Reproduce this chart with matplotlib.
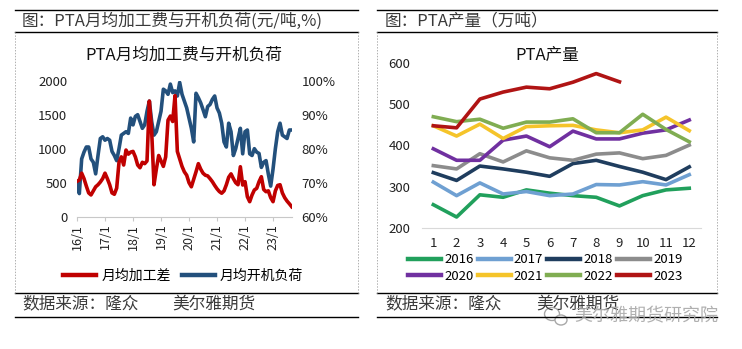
import matplotlib.pyplot as plt
from matplotlib.lines import Line2D
from matplotlib.patches import Ellipse

plt.rcParams["font.family"] = ["Noto Sans CJK SC", "DejaVu Sans"]
plt.rcParams["axes.unicode_minus"] = False

W, H = 742, 349

# 月均加工费 (元/吨), 2016/1 - 2023/9
fee = [
    520, 540, 640, 560, 450, 350, 320, 380, 440, 470, 510, 560,
    640, 560, 470, 350, 330, 420, 800, 880, 760, 980, 920, 950,
    960, 880, 760, 720, 800, 780, 820, 1700, 1250, 470, 700, 900,
    820, 740, 880, 1420, 1480, 1400, 1780, 960, 850, 740, 660, 610,
    500, 440, 550, 660, 780, 700, 640, 610, 600, 560, 515, 460,
    410, 370, 345, 380, 470, 580, 630, 560, 500, 470, 735, 466,
    515, 294, 221, 319, 393, 417, 515, 588, 400, 368, 380, 280,
    221, 380, 460, 470, 350, 280, 230, 190, 147,
]
# 月均开机负荷 (%)
load = [
    70.3, 66.8, 77, 79, 80.5, 80.5, 77, 76, 72.6, 78, 83, 83.5,
    82.5, 83, 82.5, 79.2, 78, 76.5, 80, 84, 84.5, 85, 84.5, 89,
    87, 89.5, 90, 88, 86, 87, 91, 94, 88, 84, 85, 88,
    91, 97.5, 97, 96, 99, 96.5, 97, 95.5, 99.5, 96, 94, 92,
    89, 86, 82, 96.3, 95, 93.5, 91.5, 89.4, 92.4, 93, 94.5, 95.5,
    92, 90.5, 87.5, 82, 80.5, 87.5, 85, 78, 80, 83, 86, 78.5,
    85, 85.5, 78.5, 78, 80, 79, 78.6, 74.5, 76, 76.5, 72.5, 69,
    74, 80, 85, 87.5, 84, 83.5, 83, 85.5, 85.5,
]
year_ticks = ["16/1", "17/1", "18/1", "19/1", "20/1", "21/1", "22/1", "23/1"]

# PTA 产量 (万吨), 按月
years = ["2016", "2017", "2018", "2019", "2020", "2021", "2022", "2023"]
output_2016 = [256, 226, 280, 274, 292, 284, 278, 274, 253, 278, 292, 296]
output_2017 = [311, 278, 309, 282, 288, 278, 282, 305, 304, 312, 304, 329]
output_2018 = [334, 315, 350, 343, 335, 325, 356, 364, 349, 335, 317, 348]
output_2019 = [351, 343, 380, 360, 387, 370, 364, 379, 382, 368, 376, 401]
output_2020 = [392, 364, 364, 413, 423, 397, 435, 416, 416, 430, 438, 462]
output_2021 = [448, 423, 452, 417, 446, 448, 449, 438, 431, 438, 469, 436]
output_2022 = [470, 458, 464, 442, 457, 457, 465, 431, 431, 476, 439, 409]
output_2023 = [448, 443, 513, 530, 542, 538, 554, 575, 555]

RED = "#c00000"
BLUE = "#23507c"
year_colors = ["#21a05c", "#6fa0d2", "#1f3d5e", "#8c8c8c",
               "#7030a0", "#f5c42a", "#80ad52", "#b01414"]
TXT = "#3a3a3a"
GRID = "#c8c8c8"


def box(x0, y0, x1, y1):
    return [x0 / W, 1 - y1 / H, (x1 - x0) / W, (y1 - y0) / H]


def fx(x):
    return x / W


def fy(y):
    return 1 - y / H


fig = plt.figure(figsize=(W / 100, H / 100), dpi=100)
fig.patch.set_facecolor("white")

# frames: solid rules for header/footer, dotted sides
for x0, x1 in [(15, 358), (377, 717)]:
    for y in [10, 32, 293, 317]:
        fig.add_artist(Line2D([fx(x0), fx(x1)], [fy(y), fy(y)],
                              color="black", lw=1.0))
    for x in [x0, x1]:
        fig.add_artist(Line2D([fx(x), fx(x)], [fy(32), fy(293)],
                              color="#b0b0b0", lw=0.7, ls=(0, (1.5, 1.5))))

fig.text(fx(22), fy(21), "图：PTA月均加工费与开机负荷(元/吨,%)",
         fontsize=12, color=TXT, va="center", ha="left")
fig.text(fx(385), fy(21), "图：PTA产量（万吨）",
         fontsize=12, color=TXT, va="center", ha="left")
for x0 in [22, 385]:
    fig.text(fx(x0), fy(304), "数据来源：隆众", fontsize=12, color=TXT,
             va="center", ha="left")
fig.text(fx(172), fy(304), "美尔雅期货", fontsize=12, color=TXT,
         va="center", ha="left")
fig.text(fx(536), fy(304), "美尔雅期货", fontsize=12, color=TXT,
         va="center", ha="left")

# ---- left: processing fee vs. operating rate
ax1 = fig.add_axes(box(77, 80.7, 291.7, 216.7))
ax2 = ax1.twinx()
idx = range(len(fee))
ax1.plot(idx, fee, color=RED, lw=2.6, solid_joinstyle="round")
ax2.plot(range(len(load)), load, color=BLUE, lw=2.6, solid_joinstyle="round")
ax1.set_zorder(ax2.get_zorder() + 1)
ax1.patch.set_visible(False)

ax1.set_xlim(0, len(fee) - 1)
ax1.set_ylim(0, 2000)
ax2.set_ylim(60, 100)
ax1.set_yticks(range(0, 2001, 500))
ax2.set_yticks(range(60, 101, 10))
ax2.set_yticklabels([f"{v}%" for v in range(60, 101, 10)])
ax1.set_xticks(range(0, len(fee), 12))
ax1.set_xticklabels(year_ticks, rotation=90)
ax1.tick_params(axis="y", length=0, pad=7, labelsize=9.5, labelcolor="#222222")
ax2.tick_params(axis="y", length=0, pad=7, labelsize=9.5, labelcolor="#222222")
ax1.tick_params(axis="x", length=3, width=0.8, color=GRID, pad=2,
                labelsize=9, labelcolor="#222222")
for ax in (ax1, ax2):
    for s in ["top", "left", "right"]:
        ax.spines[s].set_visible(False)
ax2.spines["bottom"].set_visible(False)
ax1.spines["bottom"].set_color(GRID)
ax1.spines["bottom"].set_linewidth(0.8)

fig.text(fx(184), fy(55), "PTA月均加工费与开机负荷", fontsize=12,
         color="#111111", ha="center", va="center")

h_fee = Line2D([], [], color=RED, lw=3.2)
h_load = Line2D([], [], color=BLUE, lw=3.2)
fig.legend([h_fee, h_load], ["月均加工差", "月均开机负荷"], ncol=2,
           loc="center left", bbox_to_anchor=(fx(63), fy(276)),
           frameon=False, fontsize=10, handlelength=2.4, handletextpad=0.35,
           columnspacing=0.8, borderpad=0, borderaxespad=0)

# ---- right: monthly output by year
series = [output_2016, output_2017, output_2018, output_2019,
          output_2020, output_2021, output_2022, output_2023]
ax3 = fig.add_axes(box(421.7, 63.3, 700.9, 227.7))
for vals, c in zip(series, year_colors):
    ax3.plot(range(1, len(vals) + 1), vals, color=c, lw=2.6,
             solid_joinstyle="round")
ax3.set_xlim(0.5, 12.5)
ax3.set_ylim(200, 600)
ax3.set_xticks(range(1, 13))
ax3.set_yticks(range(200, 601, 100))
ax3.tick_params(axis="both", length=0, labelsize=9.5, labelcolor="#222222")
ax3.tick_params(axis="x", pad=7)
ax3.tick_params(axis="y", pad=8)
for s in ["top", "left", "right"]:
    ax3.spines[s].set_visible(False)
ax3.spines["bottom"].set_color("#d9d9d9")
ax3.spines["bottom"].set_linewidth(0.8)

fig.text(fx(547), fy(55), "PTA产量", fontsize=12, color="#111111",
         ha="center", va="center")

order = [0, 4, 1, 5, 2, 6, 3, 7]
leg_handles = [Line2D([], [], color=year_colors[i], lw=3.2) for i in order]
fig.legend(leg_handles, [years[i] for i in order], ncol=4,
           loc="center left", bbox_to_anchor=(fx(408), fy(268)),
           frameon=False, fontsize=9.5, handlelength=2.5, handletextpad=0.25,
           columnspacing=0.3, labelspacing=0.25, borderpad=0,
           borderaxespad=0)

# watermark
wm = "#a8a8a8"
fig.add_artist(Ellipse((fx(552), fy(314)), 15 / W, 13 / H,
                       transform=fig.transFigure, fill=False,
                       edgecolor=wm, lw=1.0))
fig.add_artist(Ellipse((fx(561), fy(320)), 12 / W, 10 / H,
                       transform=fig.transFigure, facecolor="white",
                       edgecolor=wm, lw=1.0))
fig.text(fx(574), fy(316), "美尔雅期货研究院", fontsize=13, color=wm,
         ha="left", va="center", alpha=0.9)

fig.savefig("out.png", dpi=100)
